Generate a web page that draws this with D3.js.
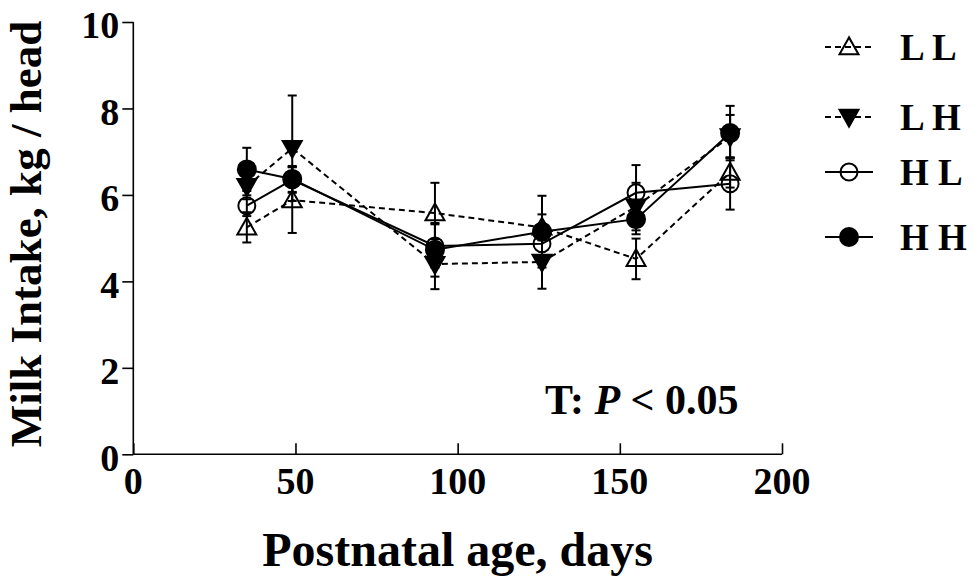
<!DOCTYPE html>
<html lang="en">
  <head>
    <meta charset="utf-8">
    <title>Milk intake</title>
    <script src="https://d3js.org/d3.v7.min.js"></script>
    <style>
      body { margin: 0; background: #fff; }
      text { font-family: "Liberation Serif", "Times New Roman", serif; font-weight: bold; fill: #000; }
    </style>
  </head>

  <body>

    <script>

// data

  var days = [35, 49, 93, 126, 155, 184];

  var groups = ["L L", "L H", "H L", "H H"];

  var llMean = [5.25, 5.88, 5.58, 5.25, 4.52, 6.52];
  var llErr  = [0.35, 0.76, 0.70, 0.30, 0.47, 0.35];

  var lhMean = [6.20, 7.08, 4.40, 4.45, 5.73, 7.35];
  var lhErr  = [0.30, 1.22, 0.58, 0.62, 0.55, 0.50];

  var hlMean = [5.75, 6.35, 4.82, 4.87, 6.05, 6.26];
  var hlErr  = [0.24, 0.30, 0.50, 0.40, 0.64, 0.60];

  var hhMean = [6.59, 6.37, 4.73, 5.15, 5.44, 7.43];
  var hhErr  = [0.50, 0.30, 0.62, 0.83, 0.35, 0.63];

  var xTicks = [0, 50, 100, 150, 200];
  var yTicks = [0, 2, 4, 6, 8, 10];

  var series = [
    {name: groups[0], mean: llMean, err: llErr, dash: "6,4", shape: "up",   fill: "none"},
    {name: groups[1], mean: lhMean, err: lhErr, dash: "6,4", shape: "down", fill: "#000"},
    {name: groups[2], mean: hlMean, err: hlErr, dash: null,  shape: "circle", fill: "none"},
    {name: groups[3], mean: hhMean, err: hhErr, dash: null,  shape: "circle", fill: "#000"}
  ];

// svg and scales

  var svg = d3.select("body")
    .append("svg")
      .attr("width", 975)
      .attr("height", 586);

  var x = d3.scaleLinear().domain([0, 200]).range([133.3, 782]);
  var y = d3.scaleLinear().domain([0, 10]).range([454.3, 22]);

// axes

  var yAxis = svg.append("g")
      .attr("transform", "translate(" + x(0) + ",0)")
      .call(d3.axisLeft(y).tickValues(yTicks).tickSize(11).tickPadding(5));

  var xAxis = svg.append("g")
      .attr("transform", "translate(0," + y(0) + ")")
      .call(d3.axisBottom(x).tickValues(xTicks).tickSize(-11).tickFormat(""));

  svg.selectAll(".domain, .tick line")
      .attr("stroke", "#000")
      .attr("stroke-width", 1.6);

  xAxis.select(".domain").attr("d", "M" + x(0) + ",0H" + x(200));
  yAxis.select(".domain").attr("d", "M0," + y(10) + "V" + y(0));

  yAxis.selectAll(".tick text")
      .attr("x", -14)
      .attr("dy", "0.42em")
      .style("font-size", "38px")
      .style("font-family", "Liberation Serif")
      .style("font-weight", "bold");

  svg.selectAll(".xlab")
      .data(xTicks)
    .enter().append("text")
      .attr("class", "xlab")
      .attr("x", d => x(d))
      .attr("y", 494)
      .attr("text-anchor", "middle")
      .style("font-size", "38px")
      .text(d => d);

  svg.append("text")
      .attr("x", (x(0) + x(200)) / 2)
      .attr("y", 566)
      .attr("text-anchor", "middle")
      .style("font-size", "48px")
      .text("Postnatal age, days");

  svg.append("text")
      .attr("transform", "translate(41,234) rotate(-90)")
      .attr("text-anchor", "middle")
      .style("font-size", "45px")
      .text("Milk Intake, kg / head");

// lines, error bars, markers

  var line = d3.line()
      .x((d, i) => x(days[i]))
      .y(d => y(d));

  series.forEach(function (s) {
    svg.append("path")
        .attr("d", line(s.mean))
        .attr("fill", "none")
        .attr("stroke", "#000")
        .attr("stroke-width", 2)
        .attr("stroke-dasharray", s.dash);
  });

  function marker(g, s, cx, cy) {
    if (s.shape == "circle") {
      g.append("circle")
          .attr("cx", cx).attr("cy", cy).attr("r", s.fill == "none" ? 8.5 : 9)
          .attr("fill", s.fill)
          .attr("stroke", "#000")
          .attr("stroke-width", 2);
    } else {
      var h = 16, w = 19;
      var pts = s.shape == "up"
        ? [[cx, cy - h * 0.6], [cx - w / 2, cy + h * 0.45], [cx + w / 2, cy + h * 0.45]]
        : [[cx, cy + h * 0.6], [cx - w / 2, cy - h * 0.45], [cx + w / 2, cy - h * 0.45]];
      g.append("path")
          .attr("d", "M" + pts.join("L") + "Z")
          .attr("fill", s.fill)
          .attr("stroke", "#000")
          .attr("stroke-width", 2);
    }
  }

  series.forEach(function (s) {
    var g = svg.append("g");
    s.mean.forEach(function (m, i) {
      var cx = x(days[i]);
      var lo = y(m - s.err[i]), hi = y(m + s.err[i]);
      g.append("line")
          .attr("x1", cx).attr("x2", cx).attr("y1", lo).attr("y2", hi)
          .attr("stroke", "#000").attr("stroke-width", 2);
      [lo, hi].forEach(function (v) {
        g.append("line")
            .attr("x1", cx - 4.5).attr("x2", cx + 4.5).attr("y1", v).attr("y2", v)
            .attr("stroke", "#000").attr("stroke-width", 2);
      });
    });
  });

  series.forEach(function (s) {
    var g = svg.append("g");
    s.mean.forEach(function (m, i) {
      marker(g, s, x(days[i]), y(m));
    });
  });

// legend

  var legendY = [47, 117, 172, 237];

  series.forEach(function (s, i) {
    var g = svg.append("g");
    g.append("line")
        .attr("x1", 825).attr("x2", 873)
        .attr("y1", legendY[i]).attr("y2", legendY[i])
        .attr("stroke", "#000")
        .attr("stroke-width", 2)
        .attr("stroke-dasharray", s.dash);
    marker(g, s, 849, legendY[i]);
    g.append("text")
        .attr("x", 900)
        .attr("y", legendY[i] + 13)
        .style("font-size", "37px")
        .style("white-space", "pre")
        .text(s.name);
  });

// annotation

  var note = svg.append("text")
      .attr("x", 545)
      .attr("y", 414)
      .style("font-size", "42px");
  note.append("tspan").text("T: ");
  note.append("tspan").style("font-style", "italic").text("P");
  note.append("tspan").text(" < 0.05");

    </script>

  </body>

</html>
